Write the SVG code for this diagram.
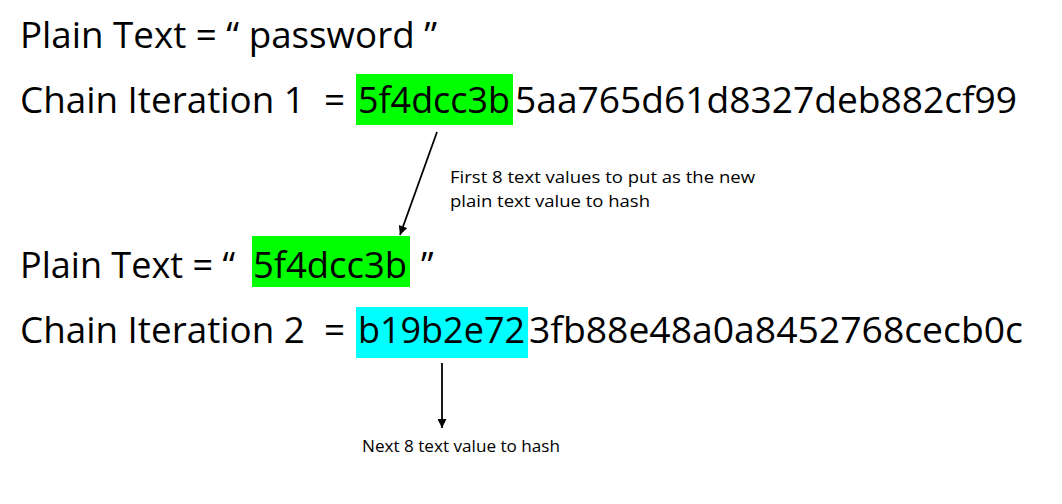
<svg xmlns="http://www.w3.org/2000/svg" width="1062" height="504" viewBox="0 0 1062 504">
  <style>
    .big { font-family: "Open Sans", "Liberation Sans", sans-serif; font-size: 36px; fill: #000; white-space: pre; }
    .small { font-family: "Open Sans", "Liberation Sans", sans-serif; font-size: 16px; fill: #000; }
    .conn { stroke: #000; stroke-width: 1.8; fill: none; }
  </style>
  <defs>
    <marker id="arrow" viewBox="0 0 10 10" refX="10" refY="5" markerWidth="10" markerHeight="9" markerUnits="userSpaceOnUse" orient="auto">
      <path d="M0,0 L10,5 L0,10 z" fill="#000"/>
    </marker>
  </defs>
  <rect width="1062" height="504" fill="#fff"/>

  <g id="plain1">
    <text class="big" x="20" y="48" textLength="417" lengthAdjust="spacingAndGlyphs">Plain Text = “ password ”</text>
  </g>

  <g id="chain1">
    <rect x="356" y="74" width="157" height="51" fill="#00ff00"/>
    <text class="big" x="20" y="113" textLength="325" lengthAdjust="spacingAndGlyphs" xml:space="preserve">Chain Iteration 1  =</text>
    <text class="big" x="358" y="113" textLength="152" lengthAdjust="spacingAndGlyphs">5f4dcc3b</text>
    <text class="big" x="515" y="113" textLength="502" lengthAdjust="spacingAndGlyphs">5aa765d61d8327deb882cf99</text>
  </g>

  <g id="label1">
    <text class="small" x="450" y="183" textLength="305" lengthAdjust="spacingAndGlyphs">First 8 text values to put as the new</text>
    <text class="small" x="450" y="207" textLength="200" lengthAdjust="spacingAndGlyphs">plain text value to hash</text>
  </g>

  <g id="plain2">
    <rect x="252" y="236" width="158" height="51" fill="#00ff00"/>
    <text class="big" x="20" y="278" textLength="215" lengthAdjust="spacingAndGlyphs">Plain Text = “</text>
    <text class="big" x="253" y="278" textLength="154" lengthAdjust="spacingAndGlyphs">5f4dcc3b</text>
    <text class="big" x="421" y="278">”</text>
  </g>

  <g id="chain2">
    <rect x="356" y="307" width="172" height="51" fill="#00ffff"/>
    <text class="big" x="20" y="343" textLength="325" lengthAdjust="spacingAndGlyphs" xml:space="preserve">Chain Iteration 2  =</text>
    <text class="big" x="358" y="343" textLength="167" lengthAdjust="spacingAndGlyphs">b19b2e72</text>
    <text class="big" x="529" y="343" textLength="494" lengthAdjust="spacingAndGlyphs">3fb88e48a0a8452768cecb0c</text>
  </g>

  <g id="label2">
    <text class="small" x="362" y="452" textLength="198" lengthAdjust="spacingAndGlyphs">Next 8 text value to hash</text>
  </g>

  <g id="connectors">
    <line class="conn" x1="437" y1="132" x2="400" y2="235" marker-end="url(#arrow)"/>
    <line class="conn" x1="442" y1="363" x2="442" y2="428" marker-end="url(#arrow)"/>
  </g>
</svg>
